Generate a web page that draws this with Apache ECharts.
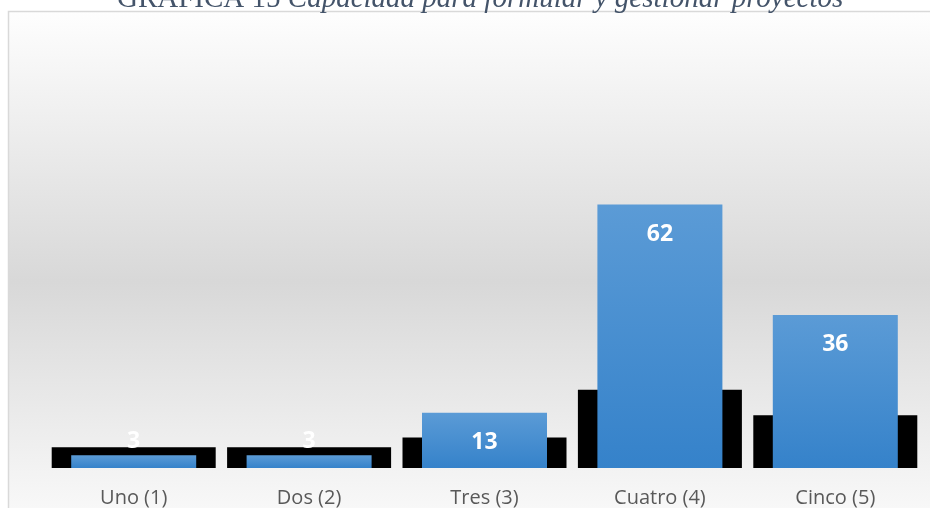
<!DOCTYPE html>
<html>
<head>
<meta charset="utf-8">
<script src="https://cdn.jsdelivr.net/npm/echarts@6/dist/echarts.min.js"></script>
<style>
    html, body { margin: 0; padding: 0; background: #fff; }
    #grafica { width: 930px; height: 508px; }
</style>
</head>
<body>
<div id="grafica"></div>
<script>
// categorias del eje x
var categorias = ['Uno (1)', 'Dos (2)', 'Tres (3)', 'Cuatro (4)', 'Cinco (5)'];
// frecuencias
var valores = [3, 3, 13, 62, 36];
// bloques negros detras de las barras (sombra)
var sombra = [4.9, 4.9, 7.2, 18.4, 12.4];

var myChart = echarts.init(document.getElementById('grafica'), null, { renderer: 'canvas' });

// etiqueta dentro de la barra, o encima si la barra es muy baja
var datosBarras = valores.map(function (v) {
    return {
        value: v,
        label: v < 10 ? { position: 'top', distance: 2 } : { position: 'insideTop', distance: 18 }
    };
});

var option = {
    animation: false,
    backgroundColor: '#ffffff',
    graphic: [
        {
            type: 'rect',
            z: -10,
            silent: true,
            shape: { x: 8.5, y: 11.5, width: 940, height: 540 },
            style: {
                fill: new echarts.graphic.LinearGradient(0, 0, 0, 1, [
                    { offset: 0, color: '#fefefe' },
                    { offset: 0.5, color: '#d8d8d8' },
                    { offset: 1, color: '#fefefe' }
                ]),
                stroke: '#d9d9d9',
                lineWidth: 1.5
            }
        }
    ],
    title: {
        left: 112,
        top: -20,
        text: '{a|GRÁFICA 15 }{b|Capacidad para formular y gestionar proyectos}',
        textStyle: {
            rich: {
                a: { fontFamily: 'Liberation Serif', fontSize: 29, fontWeight: 'normal', color: '#44546a' },
                b: { fontFamily: 'Liberation Serif', fontSize: 29, fontWeight: 'normal', fontStyle: 'italic', color: '#44546a' }
            }
        }
    },
    grid: {
        left: 46,
        right: 7,
        top: 128,
        bottom: 37
    },
    xAxis: [
        {
            type: 'category',
            data: categorias,
            axisLine: { show: false },
            axisTick: { show: false },
            axisLabel: {
                color: '#595959',
                fontFamily: 'Open Sans',
                fontSize: 20,
                margin: 20
            }
        },
        {
            type: 'category',
            data: categorias,
            show: false
        }
    ],
    yAxis: {
        type: 'value',
        min: 0,
        max: 80,
        show: false,
        splitLine: { show: false }
    },
    series: [
        {
            name: 'sombra',
            type: 'bar',
            xAxisIndex: 1,
            data: sombra,
            barWidth: 164,
            z: 1,
            itemStyle: { color: '#000000' },
            silent: true
        },
        {
            name: 'Frecuencia',
            type: 'bar',
            xAxisIndex: 0,
            data: datosBarras,
            barWidth: 125,
            z: 3,
            itemStyle: {
                color: new echarts.graphic.LinearGradient(0, 0, 0, 1, [
                    { offset: 0, color: '#5b9bd6' },
                    { offset: 1, color: '#3582ca' }
                ])
            },
            label: {
                show: true,
                color: '#ffffff',
                fontFamily: 'Open Sans',
                fontWeight: 'bold',
                fontSize: 23
            }
        }
    ]
};

myChart.setOption(option);

window.addEventListener('resize', function () {
    myChart.resize();
});
</script>
</body>
</html>
